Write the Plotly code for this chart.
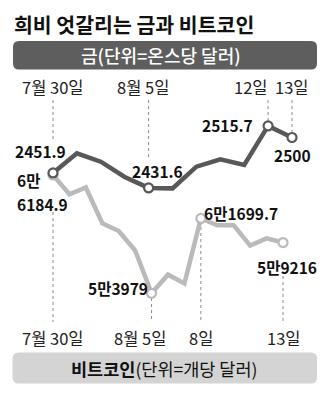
import plotly.graph_objects as go
import pandas as pd

# ---------------- data ----------------
gold_dates = ["2024-07-30", "2024-07-31", "2024-08-01", "2024-08-02", "2024-08-05",
              "2024-08-06", "2024-08-07", "2024-08-08", "2024-08-09", "2024-08-12", "2024-08-13"]
gold_values = [2451.9, 2478.6, 2467.2, 2446.4, 2431.6, 2431.0, 2460.4, 2470.4, 2462.7, 2515.7, 2500.0]

btc_dates = ["2024-07-30", "2024-07-31", "2024-08-01", "2024-08-02", "2024-08-03",
             "2024-08-04", "2024-08-05", "2024-08-06", "2024-08-07", "2024-08-08",
             "2024-08-09", "2024-08-10", "2024-08-11", "2024-08-12", "2024-08-13"]
btc_values = [66184.9, 64200, 64900, 61200, 60400, 58400, 53979, 55900, 55000, 61699.7,
              61000, 61000, 58900, 59650, 59216]

gold_marked = ["2024-07-30", "2024-08-05", "2024-08-12", "2024-08-13"]
btc_marked = ["2024-07-30", "2024-08-05", "2024-08-08", "2024-08-13"]
gold_tick_text = ["7월 30일", "8월 5일", "12일", "13일"]
btc_tick_text = ["7월 30일", "8월 5일", "8일", "13일"]

title_text = "희비 엇갈리는 금과 비트코인"
gold_header = "금(단위=온스당 달러)"
btc_header_bold = "비트코인"
btc_header_rest = "(단위=개당 달러)"

# ---------------- helpers (layout only) ----------------
W, H = 330, 420


def px(x):
    return x / W


def py(y):
    return 1 - y / H


def krw(v):
    man = int(v // 10000)
    rest = round(v - man * 10000, 1)
    return man, f"{rest:g}"


KR = "Noto Sans CJK KR"
NUM = "Liberation Sans Narrow, Noto Sans CJK KR"
GOLD_C = "#585858"
BTC_C = "#bababa"
DOT_C = "#8a8a8a"

fig = go.Figure()

# bitcoin line
fig.add_trace(go.Scatter(x=btc_dates, y=btc_values, mode="lines",
                         line=dict(color=BTC_C, width=4.5), xaxis="x", yaxis="y",
                         hoverinfo="skip", showlegend=False))
bm = [(d, v) for d, v in zip(btc_dates, btc_values) if d in btc_marked]
fig.add_trace(go.Scatter(x=[d for d, _ in bm], y=[v for _, v in bm], mode="markers",
                         marker=dict(size=9, color="white", line=dict(color=BTC_C, width=2.2)),
                         xaxis="x", yaxis="y", hoverinfo="skip", showlegend=False))

# gold line
fig.add_trace(go.Scatter(x=gold_dates, y=gold_values, mode="lines",
                         line=dict(color=GOLD_C, width=4.5), xaxis="x2", yaxis="y2",
                         hoverinfo="skip", showlegend=False))
gm = [(d, v) for d, v in zip(gold_dates, gold_values) if d in gold_marked]
fig.add_trace(go.Scatter(x=[d for d, _ in gm], y=[v for _, v in gm], mode="markers",
                         marker=dict(size=9, color="white", line=dict(color=GOLD_C, width=2.2)),
                         xaxis="x2", yaxis="y2", hoverinfo="skip", showlegend=False))

# ---------------- axes ranges (pixel-calibrated) ----------------
t0 = pd.Timestamp(btc_dates[0])
t1 = pd.Timestamp(btc_dates[-1])
px_per_day = (283 - 53) / ((t1 - t0).days)
x_lo = t0 - pd.Timedelta(days=53 / px_per_day)
x_hi = t1 + pd.Timedelta(days=(W - 283) / px_per_day)

g_step = (292 - 53) / (len(gold_dates) - 1)
g_lo = -53 / g_step
g_hi = (len(gold_dates) - 1) + (W - 292) / g_step

# bitcoin: 53979 -> y 293.3, 66184.9 -> y 175
b_slope = (293.3 - 175) / (66184.9 - 53979)
b_top = 66184.9 + 175 / b_slope
b_bot = 53979 - (H - 293.3) / b_slope
# gold
g_slope = 0.737
g_top = 2474.8 + 156.08 / g_slope
g_bot = 2474.8 - (H - 156.08) / g_slope

ax_common = dict(visible=False, showgrid=False, zeroline=False, fixedrange=True)
fig.update_layout(
    width=W, height=H,
    margin=dict(l=0, r=0, t=0, b=0),
    paper_bgcolor="white", plot_bgcolor="white",
    xaxis=dict(type="date", range=[x_lo, x_hi], domain=[0, 1], **ax_common),
    xaxis2=dict(type="category", categoryorder="array", categoryarray=gold_dates,
                range=[g_lo, g_hi], overlaying="x", domain=[0, 1], **ax_common),
    yaxis=dict(range=[b_bot, b_top], domain=[0, 1], **ax_common),
    yaxis2=dict(range=[g_bot, g_top], overlaying="y", domain=[0, 1], **ax_common),
)

shapes = []


def rrect(x0, y0, x1, y1, r, color):
    a0, a1 = px(x0), px(x1)
    b0, b1 = py(y1), py(y0)
    rx, ry = r / W, r / H
    path = (f"M {a0+rx},{b0} L {a1-rx},{b0} Q {a1},{b0} {a1},{b0+ry} "
            f"L {a1},{b1-ry} Q {a1},{b1} {a1-rx},{b1} L {a0+rx},{b1} "
            f"Q {a0},{b1} {a0},{b1-ry} L {a0},{b0+ry} Q {a0},{b0} {a0+rx},{b0} Z")
    return dict(type="path", path=path, xref="paper", yref="paper",
                fillcolor=color, line=dict(width=0), layer="below")


shapes.append(rrect(13, 41, 317, 69.5, 6, "#5e5e5e"))
shapes.append(rrect(12.5, 352.5, 317, 383.5, 6, "#d4d4d4"))

gold_dot_ends = {"2024-07-30": 141, "2024-08-05": 158, "2024-08-12": 121, "2024-08-13": 133}
for d in gold_marked:
    shapes.append(dict(type="line", xref="x2", yref="paper", x0=d, x1=d,
                       y0=py(100), y1=py(gold_dot_ends[d]),
                       line=dict(color=DOT_C, width=1, dash="dot"), layer="below"))
btc_dot_starts = {"2024-07-30": 212, "2024-08-05": 298, "2024-08-08": 227, "2024-08-13": 276}
for d in btc_marked:
    shapes.append(dict(type="line", xref="x", yref="paper", x0=d, x1=d,
                       y0=py(btc_dot_starts[d]), y1=py(322),
                       line=dict(color=DOT_C, width=1, dash="dot"), layer="below"))
fig.update_layout(shapes=shapes)

ann = []
# title
ann.append(dict(text=title_text, x=px(12), y=py(23.5), xref="paper", yref="paper",
                xanchor="left", yanchor="middle", showarrow=False,
                font=dict(family=KR, size=20.5, color="#111111", weight=700)))
# headers
ann.append(dict(text=gold_header, x=px(161), y=py(55), xref="paper", yref="paper",
                xanchor="center", yanchor="middle", showarrow=False,
                font=dict(family=KR, size=18, color="white", weight=500)))
ann.append(dict(text=f"<b>{btc_header_bold}</b>{btc_header_rest}", x=px(164), y=py(368),
                xref="paper", yref="paper", xanchor="center", yanchor="middle", showarrow=False,
                font=dict(family=KR, size=17.5, color="#111111")))

# tick labels (small nudges so neighbouring labels do not collide, as in the print)
gold_tick_shift = [0, -6, -17, 0]
btc_tick_shift = [0, -12, 0, 1]
for d, t, s in zip(gold_marked, gold_tick_text, gold_tick_shift):
    ann.append(dict(text=t, x=d, y=py(87), xref="x2", yref="paper", xshift=s,
                    xanchor="center", yanchor="middle", showarrow=False,
                    font=dict(family=NUM, size=16.5, color="#222222")))
for d, t, s in zip(btc_marked, btc_tick_text, btc_tick_shift):
    ann.append(dict(text=t, x=d, y=py(338), xref="x", yref="paper", xshift=s,
                    xanchor="center", yanchor="middle", showarrow=False,
                    font=dict(family=NUM, size=16.5, color="#222222")))

# value labels (text from data)
gv = dict(zip(gold_dates, gold_values))
bv = dict(zip(btc_dates, btc_values))
lab_font = dict(family=NUM, size=15.5, color="#111111", weight=700)


def lab(text, x, y, anchor="center", yanchor="middle"):
    ann.append(dict(text=text, x=px(x), y=py(y), xref="paper", yref="paper",
                    xanchor=anchor, yanchor=yanchor, showarrow=False, borderpad=0,
                    font=lab_font))


def gfmt(v):
    return f"{v:g}"


lab(gfmt(gv["2024-07-30"]), 40, 151)
lab(gfmt(gv["2024-08-05"]), 157, 171)
lab(gfmt(gv["2024-08-12"]), 254, 125, anchor="right")
lab(gfmt(gv["2024-08-13"]), 292.5, 155)

m, r = krw(bv["2024-07-30"])
lab(f"{m}만", 16, 192, anchor="left", yanchor="bottom")
lab(r, 16, 192, anchor="left", yanchor="top")
m, r = krw(bv["2024-08-05"])
lab(f"{m}만{r}", 117.5, 288)
m, r = krw(bv["2024-08-08"])
lab(f"{m}만{r}", 203, 213, anchor="left")
m, r = krw(bv["2024-08-13"])
lab(f"{m}만{r}", 286.5, 267)

fig.update_layout(annotations=ann)

fig.write_html("out.html", config={"displayModeBar": False})
